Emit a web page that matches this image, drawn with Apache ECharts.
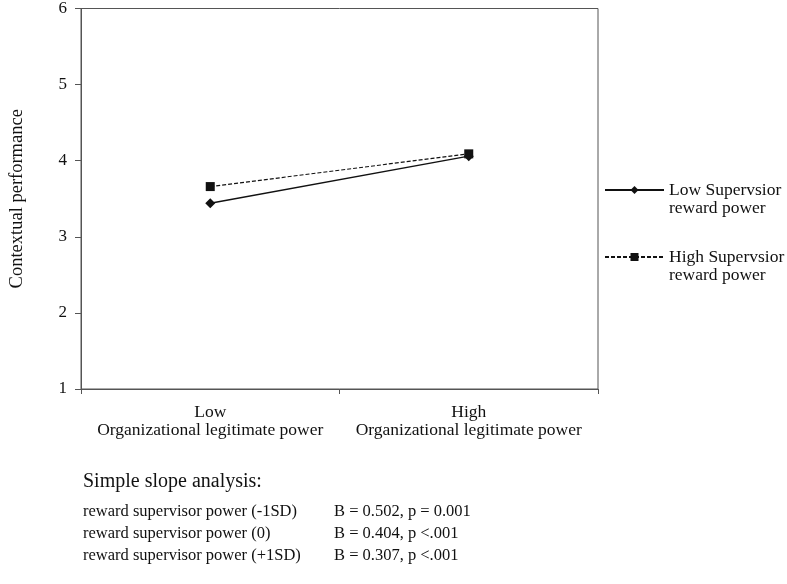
<!DOCTYPE html>
<html>
<head>
<meta charset="utf-8">
<script src="https://cdn.jsdelivr.net/npm/echarts@6/dist/echarts.min.js"></script>
<style>html,body{margin:0;padding:0;background:#fff;}#c{width:787px;height:584px;}</style>
</head>
<body>
<div id="c"></div>
<script>
var categories = ['Low\nOrganizational legitimate power', 'High\nOrganizational legitimate power'];
var seriesNames = ['Low Supervsior\nreward power', 'High Supervsior\nreward power'];
var lowSupervisor = [3.44, 4.06];
var highSupervisor = [3.66, 4.09];
var yTicks = [1, 2, 3, 4, 5, 6];
var slopeTitle = 'Simple slope analysis:';
var slopeLabels = ['reward supervisor power (-1SD)', 'reward supervisor power (0)', 'reward supervisor power (+1SD)'];
var slopeStats = ['B = 0.502, p = 0.001', 'B = 0.404, p <.001', 'B = 0.307, p <.001'];

var FONT = '"Liberation Serif", "Times New Roman", serif';
var chart = echarts.init(document.getElementById('c'));

var graphics = [{
  type: 'text', left: 83, top: 472,
  style: { text: slopeTitle, font: '20px ' + FONT, fill: '#111' }
}];
slopeLabels.forEach(function (t, i) {
  graphics.push({ type: 'text', left: 83, top: 503 + i * 22, style: { text: t, font: '16.5px ' + FONT, fill: '#111' } });
  graphics.push({ type: 'text', left: 334, top: 503 + i * 22, style: { text: slopeStats[i], font: '16.5px ' + FONT, fill: '#111' } });
});

chart.setOption({
  backgroundColor: '#fff',
  animation: false,
  grid: { left: 69, right: 189, top: 6, bottom: 195, show: true, borderColor: '#555', borderWidth: 1 },
  legend: {
    orient: 'vertical', left: 604, top: 163, padding: 0, itemGap: 13, itemWidth: 59, itemHeight: 10,
    data: seriesNames,
    formatter: function (name) { return '\n' + name; },
    textStyle: { fontFamily: FONT, fontSize: 17.5, color: '#111', lineHeight: 18 }
  },
  xAxis: {
    type: 'category', data: categories, boundaryGap: true,
    axisLine: { lineStyle: { color: '#555', width: 1 } },
    axisTick: { show: true, inside: false, length: 5, interval: 0, lineStyle: { color: '#555' } },
    axisLabel: { interval: 0, hideOverlap: false, fontFamily: FONT, fontSize: 17.5, color: '#111', lineHeight: 18, margin: 14 }
  },
  yAxis: {
    type: 'value', min: yTicks[0], max: yTicks[yTicks.length - 1], interval: 1,
    name: 'Contextual performance', nameLocation: 'middle', nameGap: 54, nameRotate: 90,
    nameTextStyle: { fontFamily: FONT, fontSize: 18.5, color: '#111' },
    splitLine: { show: false },
    axisLine: { show: true, lineStyle: { color: '#555', width: 1 } },
    axisTick: { show: true, inside: false, length: 6, lineStyle: { color: '#555' } },
    axisLabel: { fontFamily: FONT, fontSize: 17, color: '#111', margin: 14 }
  },
  series: [{
    name: seriesNames[0], type: 'line', data: lowSupervisor,
    symbol: 'diamond', symbolSize: 10,
    lineStyle: { color: '#111', width: 1.5, type: 'solid' },
    itemStyle: { color: '#111' }
  }, {
    name: seriesNames[1], type: 'line', data: highSupervisor,
    symbol: 'rect', symbolSize: 9,
    lineStyle: { color: '#111', width: 1.2, type: [4, 2] },
    itemStyle: { color: '#111' }
  }],
  graphic: graphics
});
</script>
</body>
</html>
